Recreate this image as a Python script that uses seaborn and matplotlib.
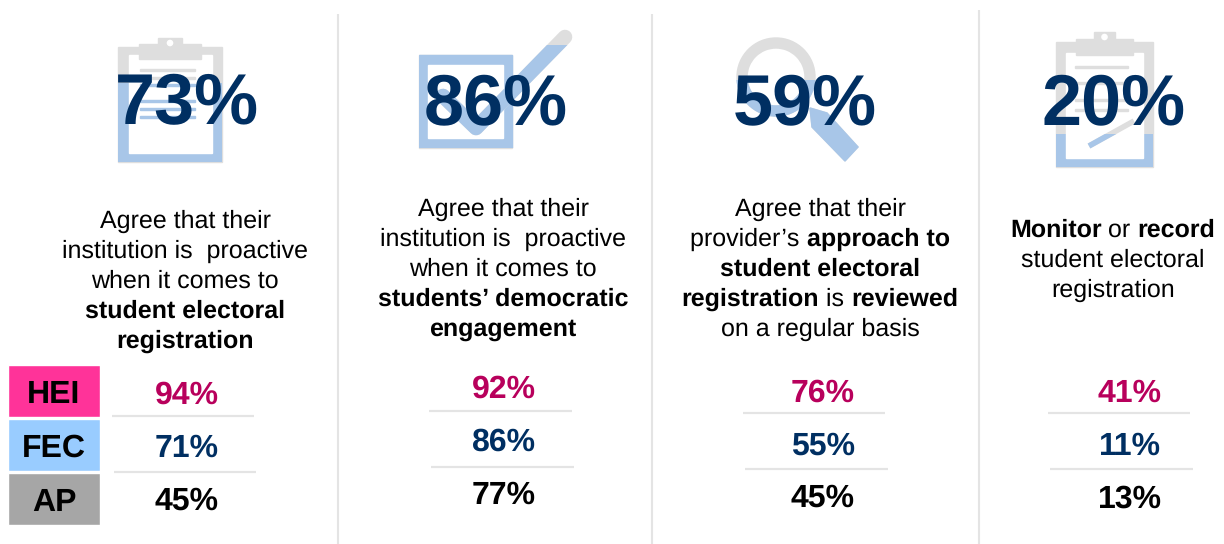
import matplotlib
matplotlib.use("Agg")
import matplotlib.pyplot as plt
from matplotlib.patches import Rectangle, Circle, Polygon, Wedge
from matplotlib.lines import Line2D
import seaborn as sns

# Survey figures by provider group
headline = [73, 86, 59, 20]
hei_values = [94, 92, 76, 41]
fec_values = [71, 86, 55, 11]
ap_values = [45, 77, 45, 13]
groups = ["HEI", "FEC", "AP"]

# Statement under each headline figure: lines of (text, is_bold) runs
statements = [
    [[("Agree that their", False)],
     [("institution is  proactive", False)],
     [("when it comes to", False)],
     [("student electoral", True)],
     [("registration", True)]],
    [[("Agree that their", False)],
     [("institution is  proactive", False)],
     [("when it comes to", False)],
     [("students’ democratic", True)],
     [("engagement", True)]],
    [[("Agree that their", False)],
     [("provider’s ", False), ("approach to", True)],
     [("student electoral", True)],
     [("registration", True), (" is ", False), ("reviewed", True)],
     [("on a regular basis", False)]],
    [[("Monitor", True), (" or ", False), ("record", True)],
     [("student electoral", False)],
     [("registration", False)]],
]

# Page layout in pixels
W, H = 1224, 544
headline_x = [187, 496, 805, 1114]
headline_baseline = 124.5
text_x = [185, 503, 820, 1113]
text_top = [219, 207, 207, 228]
line_step = 30
value_x = [187, 504, 823, 1130]
value_y = [[392, 445, 498], [386, 439, 492], [390, 443, 495], [390, 443, 496]]
rule_x = [[(112, 254), (114, 256)], [(429, 572), (431, 574)],
          [(743, 885), (745, 888)], [(1048, 1190), (1050, 1193)]]
rule_y = [[416, 472], [411, 467], [413, 469], [413, 469]]
divider_x = [338, 652, 979]
divider_top = [14, 14, 10]

# Colours
NAVY = "#002F62"
CRIMSON = "#B8005C"
ICON_GREY = "#DEDEDE"
ICON_BLUE = "#A8C6E8"
RULE = "#E4E4E4"
group_colors = ["#FF3399", "#99CCFF", "#A6A6A6"]
value_colors = [CRIMSON, NAVY, "#000000"]

# Height at which the blue wash starts on each icon
fill_top = [83, 45, 80, 134]

sns.set_theme(style="white")
plt.rcParams["font.family"] = ["Liberation Sans", "DejaVu Sans"]
plt.rcParams["text.hinting"] = "no_hinting"
plt.rcParams["text.hinting_factor"] = 1

fig = plt.figure(figsize=(W / 100, H / 100), dpi=100, facecolor="white")
ax = fig.add_axes([0, 0, 1, 1], zorder=1)
ax.set_xlim(0, W)
ax.set_ylim(H, 0)
ax.axis("off")


def clipboard(color, clip, x0, x1, top, bottom, tab, clamp, inner, lines, lx):
    """Clipboard outline with its clamp, sheet and ruled lines."""
    items = [
        Rectangle((tab[0], top), tab[1] - tab[0], clamp[0] - top + 2, color=color),
        Rectangle((x0, clamp[0] + 3), x1 - x0, bottom - clamp[0] - 3, color=color),
        Rectangle((inner[0], inner[2]), inner[1] - inner[0], inner[3] - inner[2], color="white"),
        Rectangle((clamp[2], clamp[0]), clamp[3] - clamp[2], clamp[1] - clamp[0], color=color),
        Circle(((tab[0] + tab[1]) / 2, top + 5), 2.6, color="white"),
    ]
    items += [Rectangle((lx[0], y - 1), lx[1] - lx[0], 2.4, color=color) for y in lines]
    for item in items:
        ax.add_patch(item)
        if clip is not None:
            item.set_clip_path(clip)


def clip_below(level, x0, x1, bottom):
    return Rectangle((x0, level), x1 - x0, bottom - level, transform=ax.transData)


def icon_one(color, clip):
    clipboard(color, clip, 118, 222, 38, 162, (158, 182), (44, 59, 139, 201),
              (129, 212, 55, 153), [70, 78, 85, 101, 109, 117], (140, 195))


def icon_two(color, clip):
    items = [Rectangle((419, 55), 93, 93, color=color),
             Rectangle((428, 65), 75, 73, color="white")]
    for item in items:
        ax.add_patch(item)
        if clip is not None:
            item.set_clip_path(clip)
    tick = Line2D([443, 476, 565], [96, 128, 37], color=color, lw=10.5,
                  solid_capstyle="round", solid_joinstyle="round")
    ax.add_line(tick)
    if clip is not None:
        tick.set_clip_path(clip)


def icon_three(color, clip):
    items = [Wedge((776, 77), 39, 0, 360, width=10, color=color),
             Polygon([(810, 108), (827, 113), (858, 147), (845, 161), (812, 127)],
                     closed=True, color=color)]
    for item in items:
        ax.add_patch(item)
        if clip is not None:
            item.set_clip_path(clip)


def icon_four(color, clip):
    clipboard(color, clip, 1056, 1153, 32, 167, (1094, 1115), (39, 55, 1076, 1133),
              (1066, 1143, 53, 158), [67, 83, 100, 110], (1075, 1128))
    pen = Line2D([1089, 1134], [146, 121], color=color, lw=4, solid_capstyle="butt")
    ax.add_line(pen)
    if clip is not None:
        pen.set_clip_path(clip)


# Each icon is drawn grey, then again in blue below its fill level
icons = [(icon_one, 118, 222, 162), (icon_two, 419, 570, 148),
         (icon_three, 735, 860, 162), (icon_four, 1056, 1153, 167)]
for (draw, x0, x1, bottom), level in zip(icons, fill_top):
    draw(ICON_GREY, None)
    clip = clip_below(level, x0, x1, bottom)
    draw(ICON_BLUE, clip)

for x, top in zip(divider_x, divider_top):
    ax.plot([x, x], [top, H], color=RULE, lw=1.5, solid_capstyle="butt")

for x, value in zip(headline_x, headline):
    ax.text(x, headline_baseline, f"{value}%", color=NAVY, fontsize=51.5,
            fontweight="bold", ha="center", va="baseline", zorder=5)

renderer = fig.canvas.get_renderer()
BODY_SIZE = 18


def run_width(text, bold):
    """Advance width of a run, trailing spaces included."""
    weight = "bold" if bold else "normal"
    probe = ax.text(0, 0, text + ".", fontsize=BODY_SIZE, fontweight=weight)
    dot = ax.text(0, 0, ".", fontsize=BODY_SIZE, fontweight=weight)
    width = probe.get_window_extent(renderer).width - dot.get_window_extent(renderer).width
    probe.remove()
    dot.remove()
    return width


for cx, top, lines in zip(text_x, text_top, statements):
    for i, runs in enumerate(lines):
        widths = [run_width(t, b) for t, b in runs]
        x = cx - sum(widths) / 2
        y = top + i * line_step
        for (t, b), w in zip(runs, widths):
            ax.text(x, y, t, fontsize=BODY_SIZE, fontweight="bold" if b else "normal",
                    color="black", ha="left", va="center_baseline")
            x += w

for col, row in enumerate(zip(hei_values, fec_values, ap_values)):
    for value, y, color in zip(row, value_y[col], value_colors):
        ax.text(value_x[col], y, f"{value}%", color=color, fontsize=23.4,
                fontweight="bold", ha="center", va="center_baseline")
    for (a, b), y in zip(rule_x[col], rule_y[col]):
        ax.plot([a, b], [y, y], color=RULE, lw=1.6, solid_capstyle="butt")

# Group key: one horizontal bar per provider group
key_ax = fig.add_axes([8 / W, 1 - 526 / H, 92 / W, 162 / H], zorder=2)
sns.barplot(x=[1, 1, 1], y=groups, hue=groups, palette=group_colors, width=0.975,
            saturation=1, legend=False, dodge=False, ax=key_ax)
key_ax.set_xlim(0, 1)
key_ax.axis("off")
for i, name in enumerate(groups):
    key_ax.text(0.5, i, name, color="black", fontsize=23, fontweight="bold",
                ha="center", va="center_baseline")

fig.savefig("out.png", dpi=100, facecolor="white")
